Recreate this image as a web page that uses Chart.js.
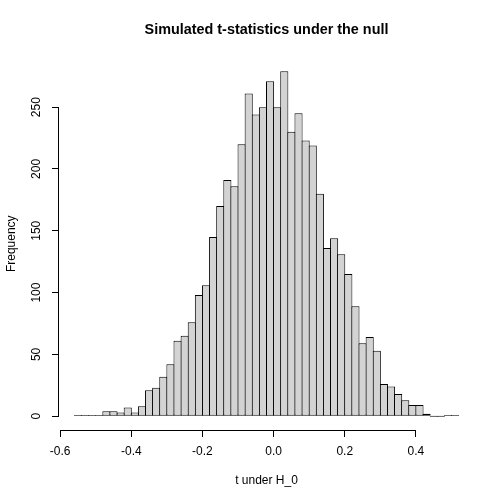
<!DOCTYPE html>
<html>
<head>
<meta charset="utf-8">
<script src="https://cdn.jsdelivr.net/npm/chart.js@4"></script>
<style>
  html, body { margin: 0; padding: 0; background: #ffffff; }
  canvas { display: block; }
</style>
</head>
<body>
<canvas id="histo" width="504" height="504"></canvas>
<script>
// bin centres (width 0.02, from -0.56 to 0.52) and counts
const binWidth = 0.02;
const binMids = [
  -0.55, -0.53, -0.51, -0.49, -0.47, -0.45, -0.43, -0.41, -0.39, -0.37,
  -0.35, -0.33, -0.31, -0.29, -0.27, -0.25, -0.23, -0.21, -0.19, -0.17,
  -0.15, -0.13, -0.11, -0.09, -0.07, -0.05, -0.03, -0.01, 0.01, 0.03,
  0.05, 0.07, 0.09, 0.11, 0.13, 0.15, 0.17, 0.19, 0.21, 0.23,
  0.25, 0.27, 0.29, 0.31, 0.33, 0.35, 0.37, 0.39, 0.41, 0.43,
  0.45, 0.47, 0.49, 0.51
];
const counts = [
  1, 1, 1, 1, 4, 4, 3, 7, 3, 8,
  21, 23, 32, 42, 61, 65, 76, 98, 106, 145,
  170, 191, 186, 220, 261, 244, 250, 271, 250, 279,
  230, 245, 223, 219, 180, 136, 144, 131, 115, 89,
  59, 64, 53, 26, 24, 18, 13, 9, 9, 2,
  0, 0, 1, 1
];
const xTicks = [-0.6, -0.4, -0.2, 0.0, 0.2, 0.4];
const yTicks = [0, 50, 100, 150, 200, 250];

// R-style axis lines that only run between the first and last tick
const rAxes = {
  id: 'rAxes',
  afterDraw(chart) {
    const ctx = chart.ctx;
    const xs = chart.scales.x, ys = chart.scales.y;
    const area = chart.chartArea;
    ctx.save();
    ctx.strokeStyle = '#000000';
    ctx.lineWidth = 1;
    ctx.beginPath();
    ctx.moveTo(xs.getPixelForValue(xTicks[0]), area.bottom + 0.5);
    ctx.lineTo(xs.getPixelForValue(xTicks[xTicks.length - 1]), area.bottom + 0.5);
    ctx.moveTo(area.left - 0.5, ys.getPixelForValue(yTicks[0]));
    ctx.lineTo(area.left - 0.5, ys.getPixelForValue(yTicks[yTicks.length - 1]));
    ctx.stroke();
    ctx.restore();
  }
};

const pts = binMids.map((m, i) => ({x: m, y: counts[i]}));
const xMin = -0.56 - 0.04 * 1.08, xMax = 0.52 + 0.04 * 1.08;
const yMax = Math.max(...counts);

let miCanvas = document.getElementById("histo").getContext("2d");
var chart = new Chart(miCanvas, {
  type: "bar",
  data: {
    datasets: [
      {
        label: "t",
        data: pts,
        backgroundColor: '#d3d3d3',
        borderColor: '#000000',
        borderWidth: 1,
        borderSkipped: false,
        barPercentage: 1.14,
        categoryPercentage: 1,
        minBarLength: 1
      }
    ]
  },
  options: {
    responsive: false,
    animation: false,
    events: [],
    layout: { padding: { left: 0, right: 30, top: 0, bottom: 0 } },
    plugins: {
      legend: { display: false },
      tooltip: { enabled: false },
      title: {
        display: true,
        text: "Simulated t-statistics under the null",
        color: '#000000',
        fullSize: false,
        font: { family: 'Liberation Sans', size: 14.4, weight: 'bold' },
        padding: { top: 21.4, bottom: 18.8 }
      }
    },
    scales: {
      x: {
        type: 'linear',
        offset: false,
        min: xMin,
        max: xMax,
        afterBuildTicks: (s) => { s.ticks = xTicks.map(v => ({value: v})); },
        afterFit: (s) => { s.height = 74; },
        border: { display: false },
        grid: { display: true, offset: false, drawOnChartArea: false, drawTicks: true, tickLength: 7, color: '#000000', tickColor: '#000000' },
        ticks: {
          color: '#000000',
          font: { family: 'Liberation Sans', size: 12 },
          padding: 7,
          maxRotation: 0,
          autoSkip: false,
          callback: (v) => Number(v).toFixed(1)
        },
        title: {
          display: true,
          text: "t under H_0",
          color: '#000000',
          font: { family: 'Liberation Sans', size: 12 },
          padding: { top: 0, bottom: 15.8 }
        }
      },
      y: {
        type: 'linear',
        min: -0.04 * yMax,
        max: yMax * 1.04,
        afterBuildTicks: (s) => { s.ticks = yTicks.map(v => ({value: v})); },
        afterFit: (s) => { s.width = 59; },
        border: { display: false },
        grid: { display: true, offset: false, drawOnChartArea: false, drawTicks: true, tickLength: 7, color: '#000000', tickColor: '#000000' },
        ticks: {
          color: '#000000',
          font: { family: 'Liberation Sans', size: 12 },
          padding: 5,
          minRotation: 90,
          maxRotation: 90,
          crossAlign: 'center',
          autoSkip: false
        },
        title: {
          display: true,
          text: "Frequency",
          color: '#000000',
          font: { family: 'Liberation Sans', size: 12 },
          padding: { top: 4, bottom: 0 }
        }
      }
    }
  },
  plugins: [rAxes]
});
</script>
</body>
</html>
